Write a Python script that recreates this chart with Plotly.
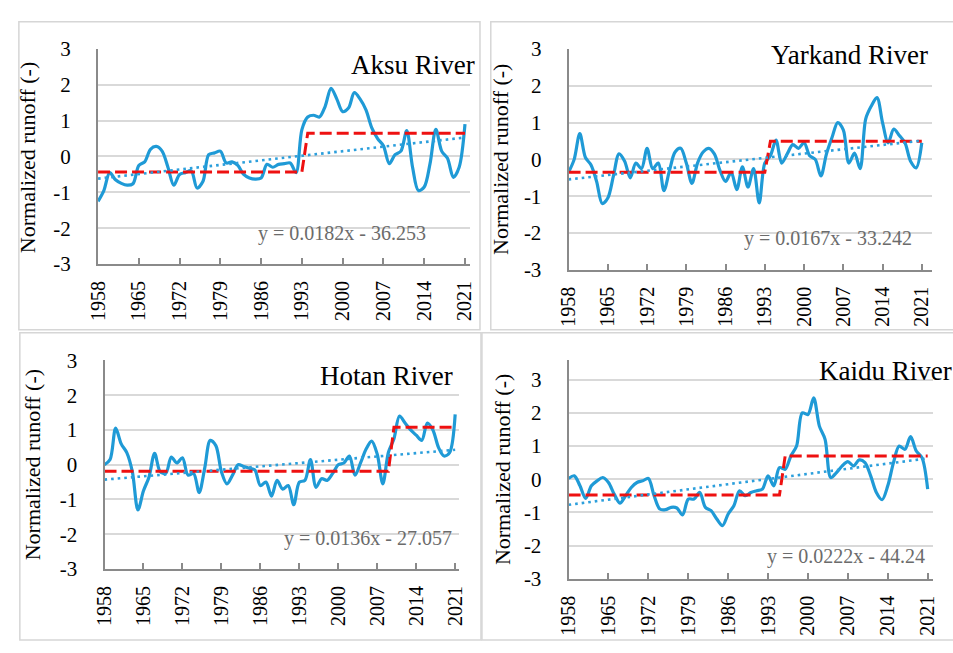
import plotly.graph_objects as go

# ---------------------------------------------------------------- data
YEARS = list(range(1958, 2022))
TICK_YEARS = [1958, 1965, 1972, 1979, 1986, 1993, 2000, 2007, 2014, 2021]
TICK_TEXT = [str(y) for y in TICK_YEARS]
Y_TICKS = [-3, -2, -1, 0, 1, 2, 3]
Y_TICK_TEXT = ["-3", "-2", "-1", "0", "1", "2", "3"]

RIVERS = ["Aksu River", "Yarkand River", "Hotan River", "Kaidu River"]

aksu = [-1.25, -0.95, -0.45, -0.65, -0.75, -0.80, -0.76, -0.25, -0.15, 0.20,
        0.28, 0.15, -0.30, -0.80, -0.50, -0.45, -0.40, -0.88, -0.70, 0.05,
        0.10, 0.15, -0.18, -0.15, -0.25, -0.50, -0.60, -0.63, -0.60, -0.22,
        -0.30, -0.22, -0.20, -0.18, -0.45, 0.75, 1.10, 1.15, 1.10, 1.40,
        1.90, 1.60, 1.25, 1.35, 1.78, 1.60, 1.30, 0.80, 0.50, 0.30,
        -0.20, 0.05, 0.15, 0.72, -0.30, -0.95, -0.85, -0.20, 0.76, 0.15,
        -0.05, -0.58, -0.30, 0.90]

yarkand = [-0.35, 0.00, 0.70, 0.05, -0.15, -0.60, -1.20, -1.05, -0.45, 0.15,
           -0.05, -0.50, -0.10, -0.25, 0.30, -0.25, -0.10, -0.85, -0.30, 0.20,
           0.30, -0.10, -0.65, -0.10, 0.20, 0.30, 0.15, -0.30, -0.60, -0.35,
           -0.82, -0.20, -0.75, -0.25, -1.18, -0.10, 0.10, 0.52, -0.10, 0.15,
           0.40, 0.30, 0.45, 0.10, 0.00, -0.45, 0.15, 0.60, 1.00, 0.80,
           -0.10, 0.17, -0.25, 1.10, 1.45, 1.68, 1.00, 0.45, 0.82, 0.65,
           0.45, -0.05, -0.23, 0.45]

hotan = [0.00, 0.15, 1.05, 0.60, 0.35, -0.20, -1.30, -0.75, -0.35, 0.33,
         -0.20, -0.25, 0.22, 0.05, 0.20, -0.30, -0.25, -0.80, -0.10, 0.70,
         0.55, -0.20, -0.55, -0.30, 0.00, -0.05, -0.10, -0.15, -0.60, -0.50,
         -0.90, -0.45, -0.70, -0.60, -1.15, -0.50, -0.45, 0.15, -0.65, -0.40,
         -0.45, -0.25, 0.00, 0.05, 0.25, -0.30, 0.05, 0.45, 0.68, 0.30,
         -0.55, 0.35, 0.75, 1.40, 1.20, 1.00, 0.85, 0.70, 1.20, 1.00,
         0.50, 0.25, 0.35, 1.45]

kaidu = [0.02, 0.10, -0.20, -0.58, -0.20, -0.05, 0.05, -0.10, -0.45, -0.72,
         -0.50, -0.25, -0.10, -0.05, 0.02, -0.50, -0.90, -0.92, -0.85, -0.87,
         -1.08, -0.60, -0.60, -0.40, -0.85, -0.95, -1.20, -1.40, -1.05, -0.80,
         -0.35, -0.50, -0.40, -0.35, -0.30, 0.10, -0.20, 0.35, 0.30, 0.70,
         1.00, 2.00, 1.95, 2.45, 1.60, 1.20, 0.05, 0.20, 0.40, 0.53,
         0.40, 0.58, 0.50, 0.10, -0.40, -0.62, -0.20, 0.50, 1.00, 0.90,
         1.28, 0.85, 0.65, -0.30]

# mean level before / after the change point (first year of the new level)
STEP_LOW = [-0.43, -0.35, -0.19, -0.48]
STEP_HIGH = [0.65, 0.49, 1.08, 0.70]
CHANGE_YEAR = [1994, 1994, 2010, 1996]

# linear trend y = slope * year + intercept
TREND_SLOPE = [0.0182, 0.0167, 0.0136, 0.0222]
TREND_INTERCEPT = [-36.253, -33.242, -27.057, -44.24]

SERIES = [aksu, yarkand, hotan, kaidu]

# ---------------------------------------------------------------- layout geometry (pixels)
W, H = 953, 653
# x of 1958, x of 2021, right end of axis, y of +3, y of -3, top of y axis
GEOM = [
    (87.7, 461.7, 466.5, 38.3, 261.7, 38.3),
    (567.3, 927.3, 938.0, 38.3, 267.7, 38.3),
    (94.3, 451.7, 456.0, 361.7, 578.3, 361.7),
    (567.3, 933.3, 938.3, 381.7, 588.3, 361.7),
]
TITLE_POS = [(474, 55), (936, 45), (452, 378), (960, 373)]
EQ_POS = [(249, 230), (744, 235), (275, 547), (768, 565)]
YTITLE_POS = [(16, 151), (498, 153), (21, 470), (500, 475)]
BOXES = [(7, 10, 477, 330), (488, 10, 960, 330), (8, 333, 478, 652), (479, 333, 960, 652)]

BLUE = "#1f9ad6"
RED = "#ee1111"
GRID = "#d9d9d9"
AXIS = "#8a8a8a"
FONT = "Liberation Serif"


def px_x(v):
    return v / W


def px_y(v):
    return 1 - v / H


fig = go.Figure()
annotations = []
shapes = []

for i in range(4):
    n = "" if i == 0 else str(i + 1)
    xa, ya = "x" + n, "y" + n
    x0, x21, xend, y3, ym3, ytop = GEOM[i]

    vals = SERIES[i]
    assert len(vals) == len(YEARS)

    fig.add_trace(go.Scatter(
        x=YEARS, y=vals, xaxis=xa, yaxis=ya, mode="lines",
        line=dict(color=BLUE, width=3.2, shape="spline", smoothing=0.9),
        showlegend=False, hoverinfo="skip"))

    step = [STEP_LOW[i] if yr < CHANGE_YEAR[i] else STEP_HIGH[i] for yr in YEARS]
    fig.add_trace(go.Scatter(
        x=YEARS, y=step, xaxis=xa, yaxis=ya, mode="lines",
        line=dict(color=RED, width=3, dash="12px,5px"),
        showlegend=False, hoverinfo="skip"))

    tx = [YEARS[0], YEARS[-1]]
    ty = [TREND_SLOPE[i] * t + TREND_INTERCEPT[i] for t in tx]
    fig.add_trace(go.Scatter(
        x=tx, y=ty, xaxis=xa, yaxis=ya, mode="lines",
        line=dict(color="#2c9fdc", width=2.6, dash="2.6px,4px"),
        showlegend=False, hoverinfo="skip"))

    xmax = 1958 + 63 * (xend - x0) / (x21 - x0)
    ymax = 3 + 6 * (y3 - ytop) / (ym3 - y3)

    fig.layout["xaxis" + n] = dict(
        domain=[px_x(x0), px_x(xend)], range=[1958, xmax], anchor=ya,
        tickmode="array", tickvals=TICK_YEARS, ticktext=TICK_TEXT,
        tickangle=-90, ticks="inside", ticklen=6, tickwidth=1.5, tickcolor=AXIS,
        showline=True, linecolor=AXIS, linewidth=2, showgrid=False,
        zeroline=False, ticklabelstandoff=7,
        tickfont=dict(family=FONT, size=20, color="#000000"))
    # transparent outside ticks keep the value labels clear of the axis line
    fig.layout["yaxis" + n] = dict(
        domain=[px_y(ym3), px_y(ytop)], range=[-3, ymax], anchor=xa,
        tickmode="array", tickvals=Y_TICKS, ticktext=Y_TICK_TEXT,
        ticks="outside", ticklen=21, tickcolor="rgba(0,0,0,0)",
        showline=True, linecolor=AXIS, linewidth=2,
        showgrid=True, gridcolor=GRID, gridwidth=1.5, zeroline=False,
        tickfont=dict(family=FONT, size=21, color="#000000"))

    tx_, ty_ = TITLE_POS[i]
    annotations.append(dict(
        text=RIVERS[i], xref="paper", yref="paper", x=px_x(tx_), y=px_y(ty_),
        xanchor="right", yanchor="middle", showarrow=False,
        font=dict(family=FONT, size=27, color="#000000")))

    eq = f"y = {TREND_SLOPE[i]}x - {abs(TREND_INTERCEPT[i])}"
    ex, ey = EQ_POS[i]
    annotations.append(dict(
        text=eq, xref="paper", yref="paper", x=px_x(ex), y=px_y(ey),
        xanchor="left", yanchor="middle", showarrow=False,
        font=dict(family=FONT, size=20, color="#6b6b6b")))

    yx, yy = YTITLE_POS[i]
    annotations.append(dict(
        text="Normalized runoff (-)", xref="paper", yref="paper",
        x=px_x(yx), y=px_y(yy), xanchor="center", yanchor="middle",
        textangle=-90, showarrow=False,
        font=dict(family=FONT, size=22, color="#000000")))

    bx0, by0, bx1, by1 = BOXES[i]
    shapes.append(dict(
        type="rect", xref="paper", yref="paper",
        x0=px_x(bx0), x1=px_x(bx1), y0=px_y(by1), y1=px_y(by0),
        line=dict(color="#d6d6d6", width=1.5), layer="below"))

fig.update_layout(
    width=W, height=H, margin=dict(l=0, r=0, t=0, b=0),
    paper_bgcolor="#ffffff", plot_bgcolor="#ffffff",
    annotations=annotations, shapes=shapes, showlegend=False)

fig.write_html("out.html", config={"displayModeBar": False})
